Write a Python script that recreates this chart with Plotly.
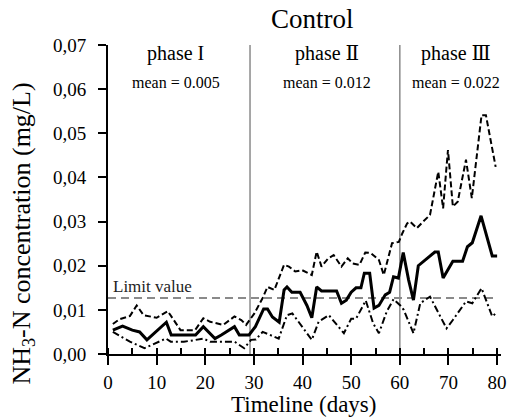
import plotly.graph_objects as go

# ---- data ----
mean_days = [1, 3, 5, 6.5, 8, 12, 13, 18, 19.6, 22, 23.3, 26, 27, 29, 30.3,
             31, 32, 32.8, 33.8, 35.2, 36.2, 36.8, 37.8, 39.5, 40.9, 41.9, 42.9, 43.9,
             47, 48, 49, 50, 51, 52, 52.7, 53.8, 54.7, 55.7, 57, 57.9, 58.7, 59.7, 60.7,
             61.8, 62.8, 63.8, 65.2, 67.2, 67.9, 68.9, 70.9, 72.9, 73.9, 74.9, 76.7, 79, 80]
mean_vals = [0.0054, 0.0063, 0.0054, 0.0050, 0.0032, 0.0072, 0.0043, 0.0043, 0.0062, 0.0035, 0.0043,
             0.0062, 0.0043, 0.0043, 0.0062,
             0.0077, 0.0102, 0.0102, 0.0084, 0.0072, 0.0145, 0.0152, 0.0140, 0.0140, 0.0110, 0.0082,
             0.0152, 0.0143, 0.0143, 0.0115, 0.0122, 0.0140, 0.0150, 0.0150, 0.0183, 0.0183, 0.0104,
             0.0110, 0.0134, 0.0140, 0.0175, 0.0172, 0.0230,
             0.0168, 0.0122, 0.0200, 0.0213, 0.0231, 0.0231, 0.0172, 0.0210, 0.0210, 0.0243, 0.0252,
             0.0313, 0.0222, 0.0222]

max_days = [1, 2.4, 4.5, 5.9, 7.3, 10, 12.3, 14.9, 17.9, 19.6, 21, 23.7, 26, 27.4, 28.4, 30.1,
            31.8, 32.8, 34.2, 36.2, 37.2, 38.5, 39.9, 41.9, 42.9, 43.9, 45.3, 46.4, 48, 49.3,
            50.3, 51.7, 52.9, 54, 55.7, 56.7, 58.4, 59.8,
            60.5, 61.5, 62.1, 63.5, 64.8, 66.2, 67.9, 68.9, 69.6, 69.9, 70.9, 71.9, 73.6, 74.8,
            76.8, 77.7, 79.7]
max_vals = [0.0068, 0.0079, 0.0086, 0.0110, 0.0088, 0.0082, 0.0097, 0.0054, 0.0054, 0.0081, 0.0073,
            0.0066, 0.0085, 0.0077, 0.0066, 0.0092,
            0.0127, 0.0152, 0.0145, 0.0202, 0.0198, 0.0187, 0.0190, 0.0179, 0.0232, 0.0198, 0.0217,
            0.0224, 0.0198, 0.0217, 0.0205, 0.0202, 0.0230, 0.0229, 0.0213, 0.0179, 0.0251, 0.0254,
            0.0273, 0.0296, 0.0300, 0.0285, 0.0300, 0.0315, 0.0413, 0.0330, 0.0424, 0.0462, 0.0334,
            0.0345, 0.0440, 0.0353, 0.0541, 0.0541, 0.0424]

min_days = [1, 4.5, 7.5, 8.8, 11.9, 12.9, 15.6, 17, 19.6, 21, 26, 28, 29.4, 30.4,
            31.8, 35.1, 36.8, 37.9, 41.9, 43.3, 44.2, 45.4, 48.5, 50, 51, 53, 54.5, 55.7, 57.3,
            58.7, 60.1,
            60.8, 62.8, 64.2, 66.2, 69.6, 70.9, 73.6, 74.9, 76.8, 79, 79.7]
min_vals = [0.0050, 0.0028, 0.0013, 0.0020, 0.0035, 0.0028, 0.0028, 0.0030, 0.0035, 0.0028, 0.0028,
            0.0013, 0.0032, 0.0033,
            0.0050, 0.0035, 0.0088, 0.0092, 0.0032, 0.0073, 0.0080, 0.0088, 0.0047, 0.0080, 0.0080,
            0.0121, 0.0070, 0.0047, 0.0096, 0.0124, 0.0110,
            0.0100, 0.0047, 0.0115, 0.0130, 0.0058, 0.0077, 0.0119, 0.0115, 0.0149, 0.0085, 0.0092]

phase_bounds = [29.2, 60]
phase_labels = ["phase I", "phase \u2161", "phase \u2162"]
phase_means = ["mean = 0.005", "mean = 0.012", "mean = 0.022"]
phase_centers = [13.9, 45.0, 71.6]
limit_value = 0.0127

x_ticks = [0, 10, 20, 30, 40, 50, 60, 70, 80]
y_ticks = [0, 0.01, 0.02, 0.03, 0.04, 0.05, 0.06, 0.07]

FONT = "Liberation Serif, DejaVu Serif, serif"
GRAY = "#8a8a8a"

fig = go.Figure()
fig.add_trace(go.Scatter(x=max_days, y=max_vals, mode="lines",
                         line=dict(color="black", width=2, dash="6px,3px"), showlegend=False))
fig.add_trace(go.Scatter(x=min_days, y=min_vals, mode="lines",
                         line=dict(color="black", width=2, dash="7px,3px,2px,3px"), showlegend=False))
fig.add_trace(go.Scatter(x=mean_days, y=mean_vals, mode="lines",
                         line=dict(color="black", width=3), showlegend=False))

shapes = []
for b in phase_bounds:
    shapes.append(dict(type="line", xref="x", yref="y", x0=b, x1=b, y0=0, y1=0.07,
                       line=dict(color=GRAY, width=1.5), layer="below"))
shapes.append(dict(type="line", xref="x", yref="y", x0=0, x1=80, y0=limit_value, y1=limit_value,
                   line=dict(color=GRAY, width=2, dash="8px,5px"), layer="below"))

annotations = []
for c, lab, m in zip(phase_centers, phase_labels, phase_means):
    annotations.append(dict(x=c, y=0.068, xref="x", yref="y", text=lab, showarrow=False,
                            font=dict(family=FONT, size=20, color="black"), xanchor="center", yanchor="middle"))
    annotations.append(dict(x=c, y=0.0615, xref="x", yref="y", text=m, showarrow=False,
                            font=dict(family=FONT, size=16, color="black"), xanchor="center", yanchor="middle"))
annotations.append(dict(x=0.6, y=limit_value + 0.0025, xref="x", yref="y", text="Limit value",
                        showarrow=False, font=dict(family=FONT, size=17, color="#222"),
                        xanchor="left", yanchor="middle"))
annotations.append(dict(x=0.5215, y=1.084, xref="paper", yref="paper", text="Control", showarrow=False,
                        font=dict(family=FONT, size=27, color="black"), xanchor="center", yanchor="middle"))
annotations.append(dict(x=0.497, y=-0.164, xref="paper", yref="paper", text="Timeline (days)",
                        showarrow=False, font=dict(family=FONT, size=23, color="black"),
                        xanchor="center", yanchor="middle"))
annotations.append(dict(x=-0.216, y=0.39, xref="paper", yref="paper",
                        text="NH<sub>3</sub>-N concentration (mg/L)", textangle=-90, showarrow=False,
                        font=dict(family=FONT, size=26, color="black"),
                        xanchor="center", yanchor="middle"))

fig.update_layout(
    width=516, height=419,
    margin=dict(l=108, r=9, t=45, b=65),
    plot_bgcolor="white", paper_bgcolor="white",
    separators=", ",
    shapes=shapes, annotations=annotations,
    font=dict(family=FONT, color="black"),
    xaxis=dict(range=[0, 80.8], tickmode="array", tickvals=x_ticks, ticks="outside", ticklen=9,
               tickwidth=2, tickcolor="black", showline=True, linecolor="black", linewidth=2,
               showgrid=False, zeroline=False, tickfont=dict(family=FONT, size=19, color="black"),
               ticklabelstandoff=1,
               minor=dict(dtick=5, tick0=0, ticks="inside", ticklen=6, tickwidth=2, tickcolor="black",
                          showgrid=False)),
    yaxis=dict(range=[0, 0.07], tickmode="array", tickvals=y_ticks, tickformat=".2f", ticks="outside",
               ticklen=8, tickwidth=2, tickcolor="black", showline=True, linecolor="black", linewidth=2,
               showgrid=False, zeroline=False, tickfont=dict(family=FONT, size=19, color="black"),
               ticklabelstandoff=8),
)

fig.write_html("out.html", config={"displayModeBar": False},
               post_script="document.body.style.margin='0';document.body.style.overflow='hidden';")
